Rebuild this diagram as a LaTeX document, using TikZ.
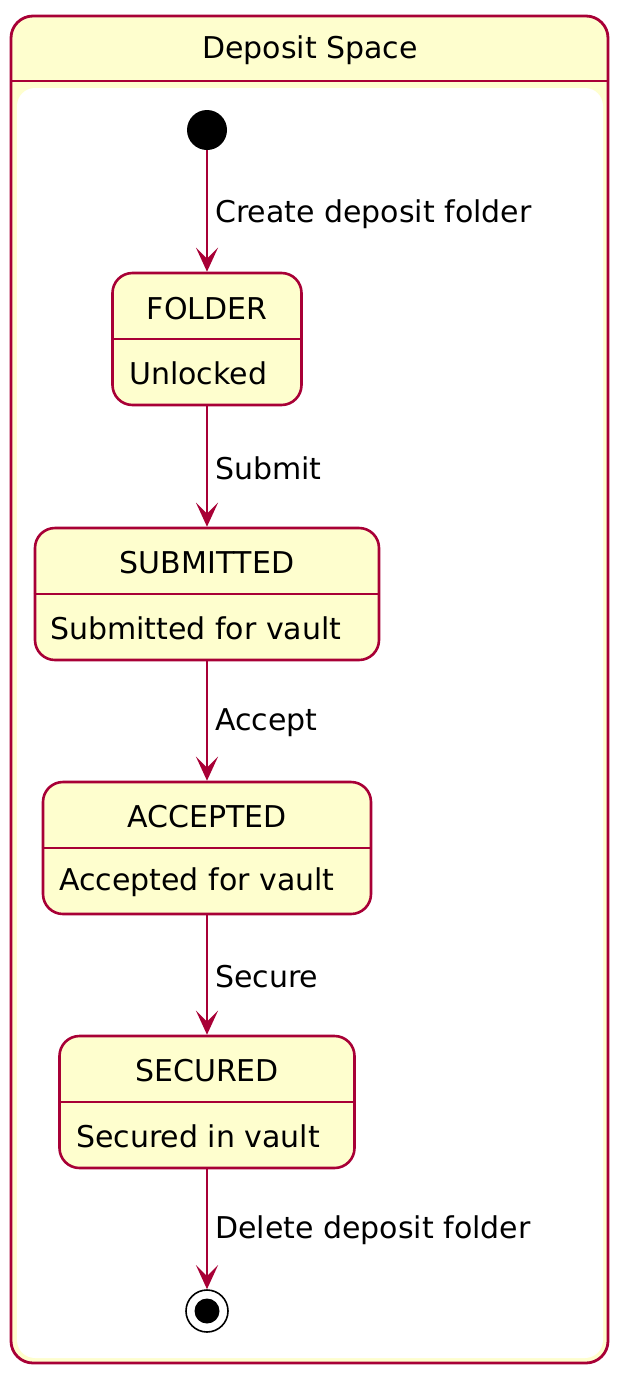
\documentclass[tikz,border=0pt]{standalone}
\usepackage{fontspec}
\setmainfont{DejaVu Sans}
\usetikzlibrary{arrows.meta}
\definecolor{pred}{HTML}{A80036}
\definecolor{pyel}{HTML}{FEFECE}
\tikzset{
  statebox/.style={draw=pred, fill=pyel, line width=2.6pt, rounded corners=20pt, inner sep=0pt, minimum height=132pt},
  txt/.style={inner sep=0pt, font=\fontsize{30}{35}\selectfont},
  lbl/.style={inner sep=0pt, anchor=west, font=\fontsize{30}{35}\selectfont},
  trans/.style={draw=pred, line width=1.9pt, -{Stealth[length=24pt,width=22pt,inset=11pt]}},
}
\begin{document}
\begin{tikzpicture}[x=1pt,y=-1pt]
\useasboundingbox (0,0) rectangle (631,1384);
% container
\node[draw=pred, fill=pyel, line width=2.8pt, rounded corners=22pt, minimum width=597pt, minimum height=1347pt, inner sep=0pt] (container) at (309.5,689.5) {};
\draw[pred, line width=2.8pt] (11,81) -- (608,81);
\node[txt] (ctitle) at (310,50.5) {Deposit Space};
\fill[white, rounded corners=18pt] (17,88) rectangle (603,1358);
% initial
\node[circle, fill=black, minimum size=40pt, inner sep=0pt] (init) at (207,130) {};
% states
\node[statebox, minimum width=189pt] (folder) at (207,339) {};
\draw[pred, line width=2.6pt] (folder.west) -- (folder.east);
\node[txt] (folderT) at (207,309) {FOLDER};
\node[txt, anchor=west] (folderB) at (129,373) {Unlocked};

\node[statebox, minimum width=344pt] (submitted) at (207,594) {};
\draw[pred, line width=2.6pt] (submitted.west) -- (submitted.east);
\node[txt] (submittedT) at (207,563) {SUBMITTED};
\node[txt, anchor=west] (submittedB) at (50,628) {Submitted for vault};

\node[statebox, minimum width=328pt] (accepted) at (207,848) {};
\draw[pred, line width=2.6pt] (accepted.west) -- (accepted.east);
\node[txt] (acceptedT) at (207,817) {ACCEPTED};
\node[txt, anchor=west] (acceptedB) at (59,882) {Accepted for vault};

\node[statebox, minimum width=295pt] (secured) at (207,1102) {};
\draw[pred, line width=2.6pt] (secured.west) -- (secured.east);
\node[txt] (securedT) at (207,1071) {SECURED};
\node[txt, anchor=west] (securedB) at (76,1136) {Secured in vault};
% final
\node[circle, draw=black, line width=1.6pt, minimum size=42pt, inner sep=0pt, fill=white] (final) at (207,1311) {};
\node[circle, fill=black, minimum size=25pt, inner sep=0pt] (finalin) at (207,1311) {};
% transitions
\draw[trans] (init) -- (folder.north);
\draw[trans] (folder.south) -- (submitted.north);
\draw[trans] (submitted.south) -- (accepted.north);
\draw[trans] (accepted.south) -- (secured.north);
\draw[trans] (secured.south) -- (final.north);
\node[lbl] (l1) at (215,214.5) {Create deposit folder};
\node[lbl] (l2) at (215,468.5) {Submit};
\node[lbl] (l3) at (215,722.5) {Accept};
\node[lbl] (l4) at (215,976.5) {Secure};
\node[lbl] (l5) at (215,1230.5) {Delete deposit folder};
\end{tikzpicture}
\end{document}
